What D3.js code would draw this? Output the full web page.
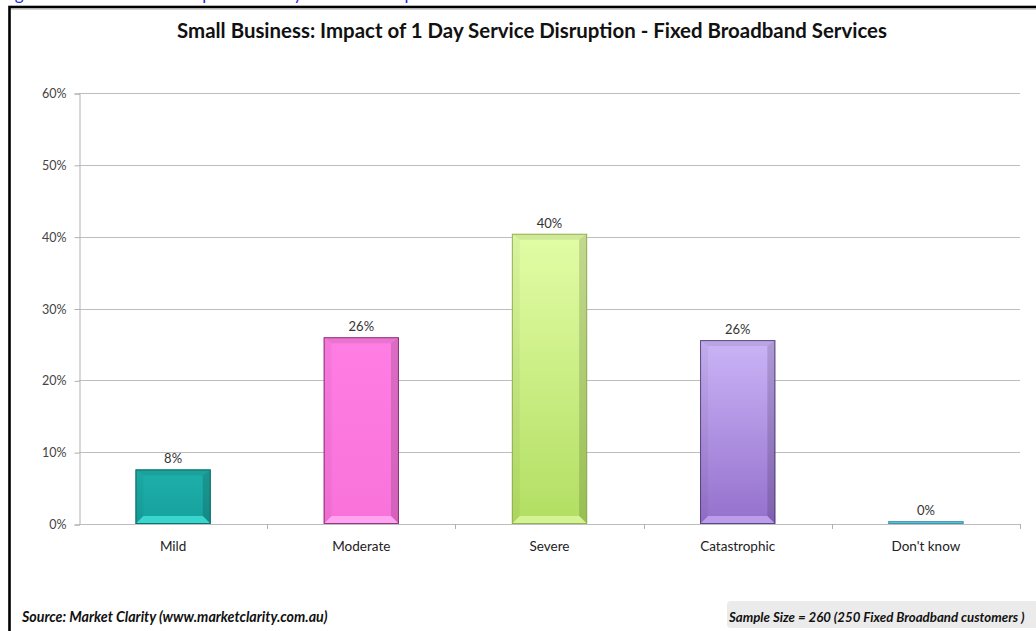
<!DOCTYPE html>
<html><head><meta charset="utf-8">
<script src="https://cdn.jsdelivr.net/npm/d3@7/dist/d3.min.js"></script>
<style>html,body{margin:0;padding:0;background:#fff;}svg{display:block;}</style>
</head><body>
<svg id="c" width="1036" height="631"></svg>
<script>
const categories = ["Mild", "Moderate", "Severe", "Catastrophic", "Don't know"];
const values = [7.6, 26.0, 40.4, 25.6, 0.4];
const valueLabels = ["8%", "26%", "40%", "26%", "0%"];
const yTicks = [0, 10, 20, 30, 40, 50, 60];
const barTop = ["#1fb0ab", "#ff7ee4", "#e2fda6", "#cbb4f7", "#6cc8e2"];
const barBottom = ["#16a19d", "#f872da", "#b2de62", "#9470cc", "#5ab8d6"];
const barGlow = ["#3edbd3", "#ffaaf2", "#d6f59a", "#bfa2f0", "#8fe0f2"];
const barEdge = ["#0b5f5c", "#7a2a66", "#8aa850", "#4a3a70", "#3a90aa"];
const title = "Small Business: Impact of 1 Day Service Disruption - Fixed Broadband Services";
const source = "Source: Market Clarity (www.marketclarity.com.au)";
const sample = "Sample Size = 260 (250 Fixed Broadband customers )";
const caption = "Figure 9: Small Business Impact of 1 Day Service Disruption - Fixed Broadband";

const svg = d3.select("#c");
const font = "Lato, 'Open Sans', 'Liberation Sans', sans-serif";

function fit(sel, target) {
  const w = sel.node().getComputedTextLength();
  const fs = parseFloat(sel.attr("font-size"));
  sel.attr("font-size", fs * target / w);
}

// caption cut off at top (only descenders visible, as in the reference)
svg.append("text").attr("x", 1).attr("y", 0).attr("font-family", font)
  .attr("font-size", 17).attr("fill", "#2222dd").text(caption);

// frame
svg.append("rect").attr("x", 9.5).attr("y", 7).attr("width", 1040).attr("height", 700)
  .attr("fill", "#fff").attr("stroke", "#000").attr("stroke-width", 2.6);
svg.append("line").attr("x1", 11).attr("x2", 1036).attr("y1", 9).attr("y2", 9)
  .attr("stroke", "#aaa").attr("stroke-width", 1);

const x0 = 79, x1 = 1020, yBottom = 524, yTop = 93;
const x = d3.scaleBand().domain(categories).range([x0, x1]).paddingInner(0.6).paddingOuter(0.3);
const xb = d3.scaleBand().domain(categories).range([x0, x1]);
const y = d3.scaleLinear().domain([0, 60]).range([yBottom, yTop]);

// gridlines
svg.append("g").selectAll("line").data(yTicks).join("line")
  .attr("x1", x0).attr("x2", x1).attr("y1", d => Math.round(y(d)) + 0.5).attr("y2", d => Math.round(y(d)) + 0.5)
  .attr("stroke", "#bdbdbd").attr("stroke-width", 1);

// y axis
const yAxis = svg.append("g").attr("transform", `translate(${x0 + 0.5},0.5)`)
  .call(d3.axisLeft(y).tickValues(yTicks).tickFormat(d => d + "%").tickSize(5).tickPadding(8));
yAxis.select(".domain").attr("stroke", "#b0b0b0");
yAxis.selectAll(".tick line").attr("stroke", "#b0b0b0");
yAxis.selectAll("text").attr("font-family", font).attr("font-size", 12.5).attr("fill", "#444");

// x axis ticks
const bounds = categories.map(c => xb(c)).concat([x1]);
svg.append("g").selectAll("line").data(bounds.slice(1)).join("line")
  .attr("x1", d => Math.round(d) + 0.5).attr("x2", d => Math.round(d) + 0.5)
  .attr("y1", yBottom).attr("y2", yBottom + 5).attr("stroke", "#b0b0b0");

// gradients
const defs = svg.append("defs");
categories.forEach((c, i) => {
  const g = defs.append("linearGradient").attr("id", "g" + i).attr("x1", 0).attr("x2", 0).attr("y1", 0).attr("y2", 1);
  g.append("stop").attr("offset", 0).attr("stop-color", barTop[i]);
  g.append("stop").attr("offset", 1).attr("stop-color", barBottom[i]);
});

const bars = svg.append("g");
categories.forEach((c, i) => {
  const bx = x(c), bw = x.bandwidth();
  const by = y(values[i]), bh = yBottom - by;
  const g = bars.append("g");
  g.append("rect").attr("x", bx).attr("y", by).attr("width", bw).attr("height", bh).attr("fill", `url(#g${i})`);
  const b = Math.min(8, bh / 3, bw / 3), bt = Math.min(6, bh / 3);
  const X0 = bx, X1 = bx + bw, Y0 = by, Y1 = yBottom;
  const polys = [
    {p: [[X0, Y0], [X1, Y0], [X1 - b, Y0 + bt], [X0 + b, Y0 + bt]], f: "#000", o: 0.08},
    {p: [[X0, Y0], [X0 + b, Y0 + bt], [X0 + b, Y1 - b], [X0, Y1]], f: "#000", o: 0.04},
    {p: [[X1, Y0], [X1 - b, Y0 + bt], [X1 - b, Y1 - b], [X1, Y1]], f: "#000", o: 0.14},
    {p: [[X0, Y1], [X0 + b, Y1 - b], [X1 - b, Y1 - b], [X1, Y1]], f: barGlow[i], o: 0.9}
  ];
  if (bh > 6) polys.forEach(q => g.append("polygon").attr("points", q.p.map(d => d.join(",")).join(" "))
    .attr("fill", q.f).attr("fill-opacity", q.o));
  g.append("rect").attr("x", bx + 0.5).attr("y", by + 0.5).attr("width", bw - 1).attr("height", Math.max(bh - 1, 0.5))
    .attr("fill", "none").attr("stroke", barEdge[i]).attr("stroke-width", 1).attr("stroke-opacity", 0.85);
  svg.append("text").attr("x", bx + bw / 2).attr("y", by - 6).attr("text-anchor", "middle")
    .attr("font-family", font).attr("font-size", 13).attr("fill", "#333").text(valueLabels[i]);
  svg.append("text").attr("x", xb(c) + xb.bandwidth() / 2).attr("y", 551).attr("text-anchor", "middle")
    .attr("font-family", font).attr("font-size", 13.5).attr("fill", "#222").text(c);
});

// title
const t = svg.append("text").attr("x", 532).attr("y", 38).attr("text-anchor", "middle")
  .attr("font-family", font).attr("font-weight", "bold").attr("font-size", 16).attr("fill", "#111").text(title);
fit(t, 710);

// source
const s = svg.append("text").attr("x", 22).attr("y", 622).attr("font-family", font)
  .attr("font-weight", "bold").attr("font-style", "italic").attr("font-size", 12).attr("fill", "#111").text(source);
fit(s, 306);

// sample box
svg.append("rect").attr("x", 727).attr("y", 601).attr("width", 312).attr("height", 27).attr("rx", 4)
  .attr("fill", "#ebebeb");
const ss = svg.append("text").attr("x", 729).attr("y", 622).attr("font-family", font)
  .attr("font-weight", "bold").attr("font-style", "italic").attr("font-size", 12).attr("fill", "#111").text(sample);
fit(ss, 296);
</script>
</body></html>
